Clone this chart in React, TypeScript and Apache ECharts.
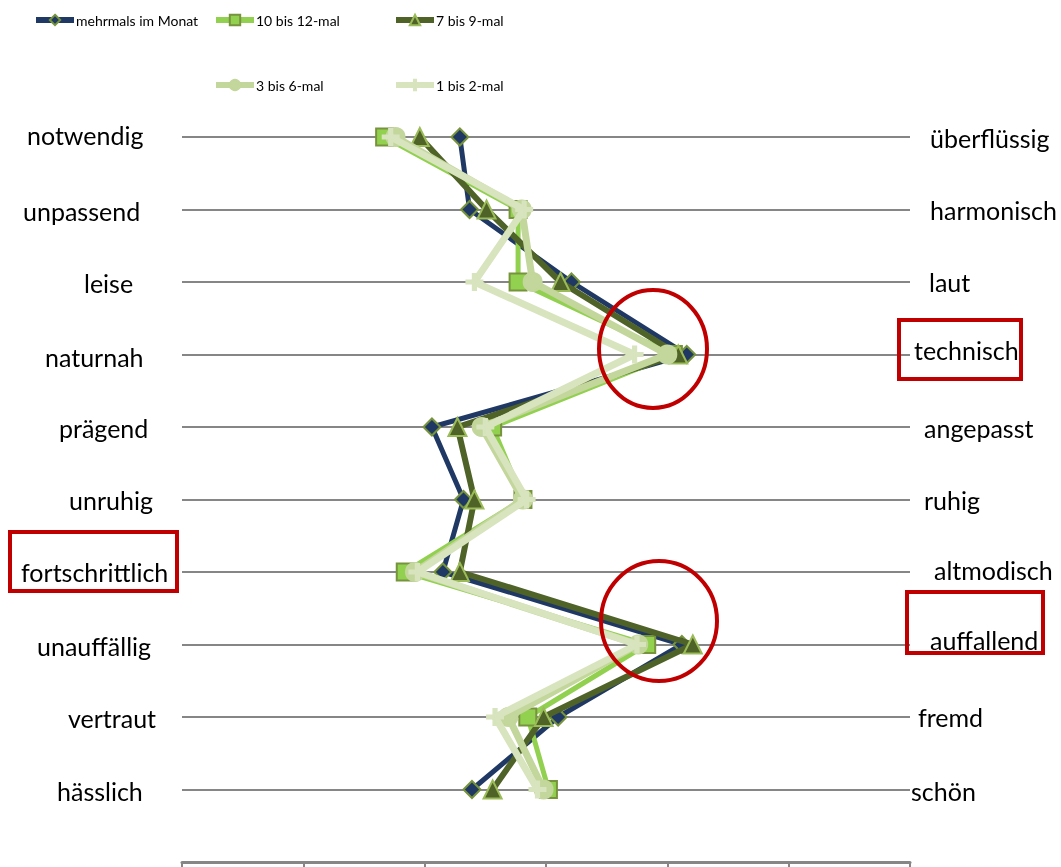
import React, { useEffect, useRef } from "react";
import * as echarts from "echarts";

const leftLabels = ["notwendig", "unpassend", "leise", "naturnah", "prägend", "unruhig", "fortschrittlich", "unauffällig", "vertraut", "hässlich"];
const rightLabels = ["überflüssig", "harmonisch", "laut", "technisch", "angepasst", "ruhig", "altmodisch", "auffallend", "fremd", "schön"];
const rows = [1, 2, 3, 4, 5, 6, 7, 8, 9, 10];
const seriesNames = ["mehrmals im Monat", "10 bis 12-mal", "7 bis 9-mal", "3 bis 6-mal", "1 bis 2-mal"];

const mehrmals = [3.29, 3.37, 4.21, 5.16, 3.06, 3.32, 3.15, 5.12, 4.1, 3.39];
const mal10bis12 = [2.67, 3.77, 3.77, 5.05, 3.56, 3.81, 2.84, 4.83, 3.85, 4.02];
const mal7bis9 = [2.96, 3.51, 4.12, 5.09, 3.27, 3.41, 3.29, 5.21, 3.98, 3.56];
const mal3bis6 = [2.76, 3.8, 3.89, 5.0, 3.47, 3.81, 2.92, 4.76, 3.69, 3.98];
const mal1bis2 = [2.72, 3.82, 3.41, 4.73, 3.5, 3.84, 2.94, 4.75, 3.58, 3.93];

// layout only (label placement)
const leftX = [27, 23, 84, 45, 59, 69, 21, 37, 68, 57];
const leftDy = [-2, 1, 1, 2, 1, 0, 0, 1, 1, 1];
const rightX = [930, 930, 929, 914, 924, 924, 934, 930, 918, 911];
const rightDy = [1, 0, 0, -5, 1, 0, -2, -5, 0, 1];

const FONT = "Lato";
const PLUS = "path://M4,0h2v4h4v2h-4v4h-2v-4h-4v-2h4z";

export default function App() {
  const ref = useRef<HTMLDivElement>(null);
  useEffect(() => {
    const chart = echarts.init(ref.current!, null, { renderer: "svg" });
    const values = [mehrmals, mal10bis12, mal7bis9, mal3bis6, mal1bis2];
    const styles = [
      { color: "#1F3864", width: 5, symbol: "diamond", size: 17, fill: "#1F3864", border: "#77933C" },
      { color: "#92D050", width: 5, symbol: "rect", size: 17, fill: "#92D050", border: "#77933C" },
      { color: "#4F6228", width: 6, symbol: "triangle", size: 18, fill: "#4F6228", border: "#9BBB59" },
      { color: "#C3D69B", width: 7, symbol: "circle", size: 18, fill: "#C3D69B", border: "#C3D69B" },
      { color: "#D7E4BD", width: 7, symbol: PLUS, size: 16, fill: "#D7E4BD", border: "#D7E4BD" },
    ];
    const series = seriesNames.map((name, i) => ({
      name,
      type: "line",
      clip: false,
      data: values[i].map((v, k) => [v, rows[k]]),
      symbol: styles[i].symbol,
      symbolSize: styles[i].size,
      lineStyle: { color: styles[i].color, width: styles[i].width },
      itemStyle: { color: styles[i].fill, borderColor: styles[i].border, borderWidth: 2 },
      z: 2 + i,
    }));
    const legendPos = [
      [33, 13],
      [213, 13],
      [393, 13],
      [213, 78],
      [393, 78],
    ];
    const legends = seriesNames.map((name, i) => ({
      left: legendPos[i][0],
      top: legendPos[i][1],
      data: [name],
      itemWidth: 38,
      itemHeight: 13,
      itemGap: 2,
      lineStyle: { width: 6 },
      textStyle: { fontFamily: FONT, fontSize: 14, color: "#000", padding: [0, 0, 0, -3] },
      selectedMode: false,
      padding: 0,
    }));
    chart.setOption({
      animation: false,
      legend: legends,
      grid: { left: 182, right: 151, top: 137, bottom: 5 },
      xAxis: {
        type: "value",
        min: 1,
        max: 7,
        interval: 1,
        axisLine: { show: true, lineStyle: { color: "#868686", width: 3 } },
        axisTick: { show: true, length: 5, lineStyle: { color: "#868686", width: 2 } },
        axisLabel: { show: false },
        splitLine: { show: false },
      },
      yAxis: {
        type: "value",
        min: 1,
        max: 11,
        interval: 1,
        inverse: true,
        axisLine: { show: false },
        axisTick: { show: false },
        axisLabel: { show: false },
        splitLine: { show: true, lineStyle: { color: "#868686", width: 2 } },
      },
      series,
    });
    const texts: any[] = [];
    rows.forEach((r, k) => {
      const y = chart.convertToPixel({ gridIndex: 0 }, [1, r])[1];
      texts.push({
        type: "text",
        x: leftX[k],
        y: y + leftDy[k],
        style: { text: leftLabels[k], fontFamily: FONT, fontSize: 25, fill: "#000", textVerticalAlign: "middle", textAlign: "left" },
      });
      texts.push({
        type: "text",
        x: rightX[k],
        y: y + rightDy[k],
        style: { text: rightLabels[k], fontFamily: FONT, fontSize: 25, fill: "#000", textVerticalAlign: "middle", textAlign: "left" },
      });
    });
    const red = { fill: "none", stroke: "#C00000", lineWidth: 4 };
    chart.setOption({
      graphic: [
        ...texts,
        { type: "ellipse", shape: { cx: 653, cy: 349, rx: 54, ry: 59 }, style: red, z: 100 },
        { type: "ellipse", shape: { cx: 659, cy: 621, rx: 58, ry: 60 }, style: red, z: 100 },
        { type: "rect", shape: { x: 899, y: 320, width: 122, height: 59 }, style: red, z: 100 },
        { type: "rect", shape: { x: 10, y: 532, width: 167, height: 59 }, style: red, z: 100 },
        { type: "rect", shape: { x: 907, y: 592, width: 136, height: 61 }, style: red, z: 100 },
      ],
    });
    return () => chart.dispose();
  }, []);
  return <div ref={ref} style={{ position: "fixed", left: 0, top: 0, width: 1061, height: 867 }} />;
}
